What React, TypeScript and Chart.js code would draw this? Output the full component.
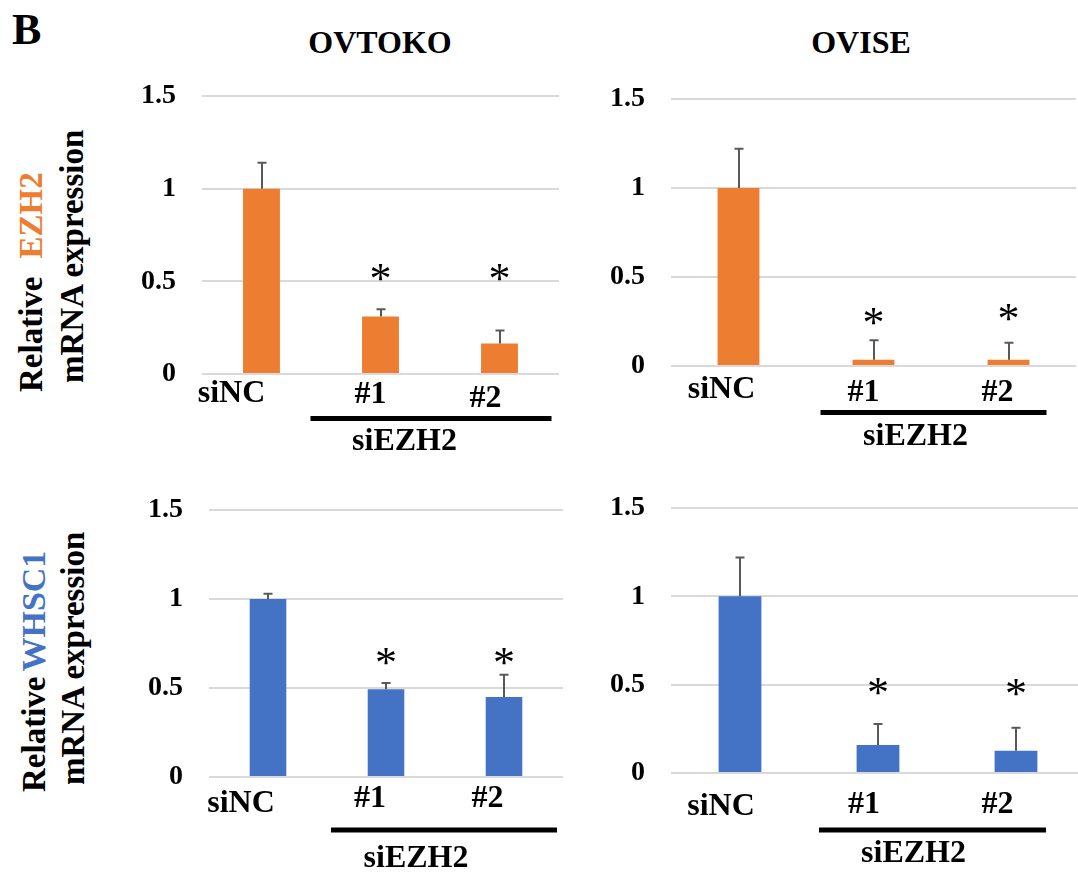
import React, { useEffect, useRef } from 'react';
import { Chart, registerables } from 'chart.js';

Chart.register(...registerables);

// ---------- data ----------
const categories = ['siNC', '#1', '#2'];
const groupLabel = 'siEZH2';
const yTickValues = [0, 0.5, 1, 1.5];

const ovtokoEzh2 = [1.0, 0.31, 0.165];
const ovtokoEzh2Err = [0.14, 0.04, 0.07];
const ovtokoEzh2Star = [null, 0.545, 0.545];

const oviseEzh2 = [1.0, 0.035, 0.035];
const oviseEzh2Err = [0.22, 0.11, 0.095];
const oviseEzh2Star = [null, 0.28, 0.3];

const ovtokoWhsc1 = [1.0, 0.493, 0.45];
const ovtokoWhsc1Err = [0.03, 0.035, 0.125];
const ovtokoWhsc1Star = [null, 0.676, 0.676];

const oviseWhsc1 = [1.0, 0.158, 0.126];
const oviseWhsc1Err = [0.22, 0.12, 0.13];
const oviseWhsc1Star = [null, 0.488, 0.486];

// ---------- styles / layout ----------
const ORANGE = '#ED7D31';
const BLUE = '#4472C4';
const SERIF = '"Liberation Serif", "Times New Roman", serif';
const AXIS_W = 80;
const PAD_T = 44;
const PAD_B = 100;

type Panel = {
  values: number[];
  errors: number[];
  stars: (number | null)[];
  color: string;
  area: { left: number; top: number; right: number; bottom: number };
  labelDx: number[];
  labelDy: number[];
  bracket: { b0: number; b1: number; dy: number };
  group: { dx: number; dy: number };
};

const panels: Panel[] = [
  {
    values: ovtokoEzh2, errors: ovtokoEzh2Err, stars: ovtokoEzh2Star, color: ORANGE,
    area: { left: 202, top: 96, right: 559, bottom: 374 },
    labelDx: [-30, -10, -14], labelDy: [28, 29, 33],
    bracket: { b0: -70, b1: 52, dy: 44.5 },
    group: { dx: -26.5, dy: 76 },
  },
  {
    values: oviseEzh2, errors: oviseEzh2Err, stars: oviseEzh2Star, color: ORANGE,
    area: { left: 671, top: 99, right: 1076, bottom: 366 },
    labelDx: [-17, -10, -11], labelDy: [32, 35, 35],
    bracket: { b0: -53, b1: 38, dy: 46.5 },
    group: { dx: -18, dy: 79 },
  },
  {
    values: ovtokoWhsc1, errors: ovtokoWhsc1Err, stars: ovtokoWhsc1Star, color: BLUE,
    area: { left: 209, top: 510, right: 563, bottom: 777 },
    labelDx: [-27, -16, -16.5], labelDy: [35, 30, 30],
    bracket: { b0: -55, b1: 53, dy: 53 },
    group: { dx: -28, dy: 90 },
  },
  {
    values: oviseWhsc1, errors: oviseWhsc1Err, stars: oviseWhsc1Star, color: BLUE,
    area: { left: 671, top: 508, right: 1085, bottom: 773 },
    labelDx: [-19, -14, -18.6], labelDy: [42, 40, 40],
    bracket: { b0: -59, b1: 30, dy: 57 },
    group: { dx: -19, dy: 89 },
  },
];

function makeAnnotPlugin(p: Panel) {
  return {
    id: 'annot',
    afterDatasetsDraw(chart: any) {
      const { ctx } = chart;
      const x = chart.scales.x;
      const y = chart.scales.y;
      const zeroY = y.getPixelForValue(0);
      ctx.save();
      // error bars (upper only)
      ctx.strokeStyle = '#595959';
      ctx.lineWidth = 2;
      p.values.forEach((v, i) => {
        const cx = Math.round(x.getPixelForValue(i));
        const y0 = y.getPixelForValue(v);
        const y1 = y.getPixelForValue(v + p.errors[i]);
        ctx.beginPath();
        ctx.moveTo(cx, y0);
        ctx.lineTo(cx, y1);
        ctx.moveTo(cx - 4.5, y1);
        ctx.lineTo(cx + 4.5, y1);
        ctx.stroke();
      });
      // significance asterisks
      ctx.fillStyle = '#000';
      ctx.font = `44px ${SERIF}`;
      ctx.textAlign = 'left';
      ctx.textBaseline = 'alphabetic';
      p.stars.forEach((s, i) => {
        if (s == null) return;
        const m = ctx.measureText('*');
        const gw = m.actualBoundingBoxRight + m.actualBoundingBoxLeft;
        const gh = m.actualBoundingBoxAscent + m.actualBoundingBoxDescent;
        const cx = x.getPixelForValue(i);
        const cy = y.getPixelForValue(s);
        ctx.fillText('*', cx - gw / 2 + m.actualBoundingBoxLeft, cy + gh / 2 - m.actualBoundingBoxDescent);
      });
      // category labels
      ctx.font = `bold 32px ${SERIF}`;
      ctx.textAlign = 'center';
      categories.forEach((c, i) => {
        ctx.fillText(c, x.getPixelForValue(i) + p.labelDx[i], zeroY + p.labelDy[i]);
      });
      // bracket + group label
      const bx0 = x.getPixelForValue(1) + p.bracket.b0;
      const bx1 = x.getPixelForValue(2) + p.bracket.b1;
      ctx.fillRect(bx0, zeroY + p.bracket.dy - 2.5, bx1 - bx0, 5);
      ctx.fillText(groupLabel, (bx0 + bx1) / 2 + p.group.dx, zeroY + p.group.dy);
      ctx.restore();
    },
  };
}

function PanelChart({ panel }: { panel: Panel }) {
  const ref = useRef<HTMLCanvasElement>(null);
  const w = AXIS_W + panel.area.right - panel.area.left;
  const h = PAD_T + panel.area.bottom - panel.area.top + PAD_B;
  useEffect(() => {
    const chart = new Chart(ref.current as HTMLCanvasElement, {
      type: 'bar',
      data: {
        labels: categories,
        datasets: [
          {
            data: panel.values,
            backgroundColor: panel.color,
            borderWidth: 0,
            barPercentage: 0.31,
            categoryPercentage: 1,
          },
        ],
      },
      options: {
        animation: false,
        responsive: false,
        devicePixelRatio: 1,
        layout: { padding: { top: PAD_T, bottom: PAD_B, left: 0, right: 0 } },
        plugins: { legend: { display: false }, tooltip: { enabled: false } },
        scales: {
          x: { display: false },
          y: {
            min: 0,
            max: 1.5,
            afterBuildTicks: (scale: any) => {
              scale.ticks = yTickValues.map((v) => ({ value: v }));
            },
            afterFit: (scale: any) => {
              scale.width = AXIS_W;
            },
            border: { display: false },
            grid: { color: '#D9D9D9', lineWidth: 2, drawTicks: false },
            ticks: {
              padding: 26,
              color: '#000',
              font: { family: SERIF, size: 28, weight: 'bold' },
              callback: (v: any) => String(v),
            },
          },
        },
      },
      plugins: [makeAnnotPlugin(panel)],
    } as any);
    return () => chart.destroy();
  }, [panel]);
  return (
    <canvas
      ref={ref}
      width={w}
      height={h}
      style={{ position: 'absolute', left: panel.area.left - AXIS_W, top: panel.area.top - PAD_T, width: w, height: h }}
    />
  );
}

const ASC = 0.891;

function Text({ x, baseline, size, children, center, bold = true }: any) {
  return (
    <div
      style={{
        position: 'absolute',
        left: x,
        top: baseline - ASC * size,
        transform: center ? 'translateX(-50%)' : undefined,
        fontFamily: SERIF,
        fontWeight: bold ? 'bold' : 'normal',
        fontSize: size,
        lineHeight: 'normal',
        whiteSpace: 'nowrap',
        color: '#000',
      }}
    >
      {children}
    </div>
  );
}

function VText({ baselineX, startY, size, children }: any) {
  return (
    <div
      style={{
        position: 'absolute',
        left: baselineX - ASC * size,
        top: startY,
        transform: 'rotate(-90deg)',
        transformOrigin: '0 0',
        fontFamily: SERIF,
        fontWeight: 'bold',
        fontSize: size,
        lineHeight: 'normal',
        whiteSpace: 'nowrap',
        color: '#000',
      }}
    >
      {children}
    </div>
  );
}

export default function App() {
  return (
    <div
      style={{
        position: 'absolute',
        left: 0,
        top: 0,
        width: 1078,
        height: 872,
        overflow: 'hidden',
        background: '#fff',
      }}
    >
      <Text x={12} baseline={43} size={44}>B</Text>
      <Text x={380} baseline={52.5} size={32} center>OVTOKO</Text>
      <Text x={861} baseline={53} size={32} center>OVISE</Text>

      <VText baselineX={42.7} startY={392} size={33}>
        Relative<span style={{ color: ORANGE, marginLeft: 18 }}>EZH2</span>
      </VText>
      <VText baselineX={83.5} startY={383} size={33}>mRNA expression</VText>

      <VText baselineX={44} startY={792} size={33}>
        Relative<span style={{ color: BLUE, marginLeft: 5, fontSize: 34 }}>WHSC1</span>
      </VText>
      <VText baselineX={84} startY={785} size={33}>mRNA expression</VText>

      {panels.map((p, i) => (
        <PanelChart key={i} panel={p} />
      ))}
    </div>
  );
}
